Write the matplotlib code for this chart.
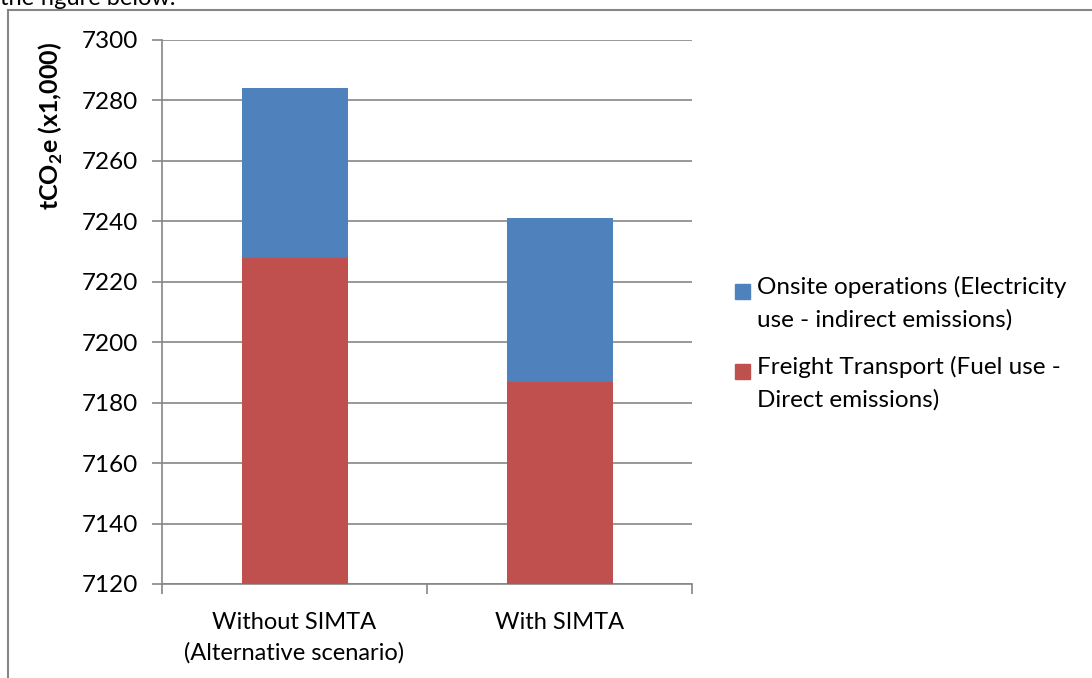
import numpy as np
import matplotlib.pyplot as plt
from matplotlib.lines import Line2D
from matplotlib.patches import Rectangle

plt.rcParams['font.family'] = ['Lato', 'DejaVu Sans']
plt.rcParams['mathtext.fontset'] = 'custom'
plt.rcParams['mathtext.rm'] = 'Lato'
plt.rcParams['mathtext.bf'] = 'Lato:bold'

# data (tCO2e x1,000)
categories = ["Without SIMTA\n(Alternative scenario)", "With SIMTA"]
freight = [7228, 7187]      # Freight Transport (Fuel use - Direct emissions)
onsite = [56, 54]           # Onsite operations (Electricity use - indirect emissions)
y_ticks = [7120, 7140, 7160, 7180, 7200, 7220, 7240, 7260, 7280, 7300]
legend_labels = ["Onsite operations (Electricity\nuse - indirect emissions)",
                 "Freight Transport (Fuel use -\nDirect emissions)"]

BLUE = "#4F81BD"
RED = "#C0504D"
GRAY = "#868686"
base = 7120
FS = 17.5

fig = plt.figure(figsize=(10.92, 6.78), dpi=100)
ax = fig.add_axes([162/1092, 1-584/678, 530/1092, 544/678])

x = np.arange(len(categories))
red_h = [v - base for v in freight]
ax.bar(x, red_h, bottom=base, width=0.4, color=RED, zorder=3)
ax.bar(x, onsite, bottom=freight, width=0.4, color=BLUE, zorder=3)

ax.set_xlim(-0.5, 1.5)
ax.set_ylim(y_ticks[0], y_ticks[-1])
ax.set_yticks(y_ticks)
ax.yaxis.grid(True, color=GRAY, lw=1.2, zorder=0)
ax.set_xticks(x)
ax.set_xticklabels(categories, fontsize=17, linespacing=1.55)
ax.set_xticks([-0.5, 0.5, 1.5], minor=True)
ax.tick_params(axis='x', which='major', length=0, pad=20)
ax.tick_params(axis='x', which='minor', length=7, color=GRAY, width=1.2)
ax.tick_params(axis='y', length=7, color=GRAY, width=1.2, labelsize=FS, pad=10)
for s in ['top', 'right']:
    ax.spines[s].set_visible(False)
for s in ['left', 'bottom']:
    ax.spines[s].set_color(GRAY)
    ax.spines[s].set_linewidth(1.2)

fig.text(51/1092, 1-126/678, r'tCO$_\mathbf{2}$e (x1,000)', rotation=90,
         ha='center', va='center', fontsize=18, fontweight='bold')

# legend drawn by hand so the square sits on the first text line
W, H = 1092, 678
for i, (lab, col) in enumerate(zip(legend_labels, [BLUE, RED])):
    yc = 291 + i * 80
    fig.add_artist(Rectangle((735/W, 1-(yc+7.5)/H), 15/W, 15/H,
                             transform=fig.transFigure, color=col))
    fig.text(757/W, 1-(yc-15)/H, lab, fontsize=FS, va='top', ha='left',
             linespacing=1.62)

# chart frame and cut-off text from the page above
fig.add_artist(Line2D([8/W, 8/W], [0, 1-10/H], transform=fig.transFigure,
                      color=GRAY, lw=1.5))
fig.add_artist(Line2D([8/W, 1], [1-10/H, 1-10/H], transform=fig.transFigure,
                      color=GRAY, lw=1.5))
fig.text(0.0, 1-5/H, "the figure below.", fontsize=17, va='baseline', ha='left')

fig.savefig("out.png", dpi=100)
